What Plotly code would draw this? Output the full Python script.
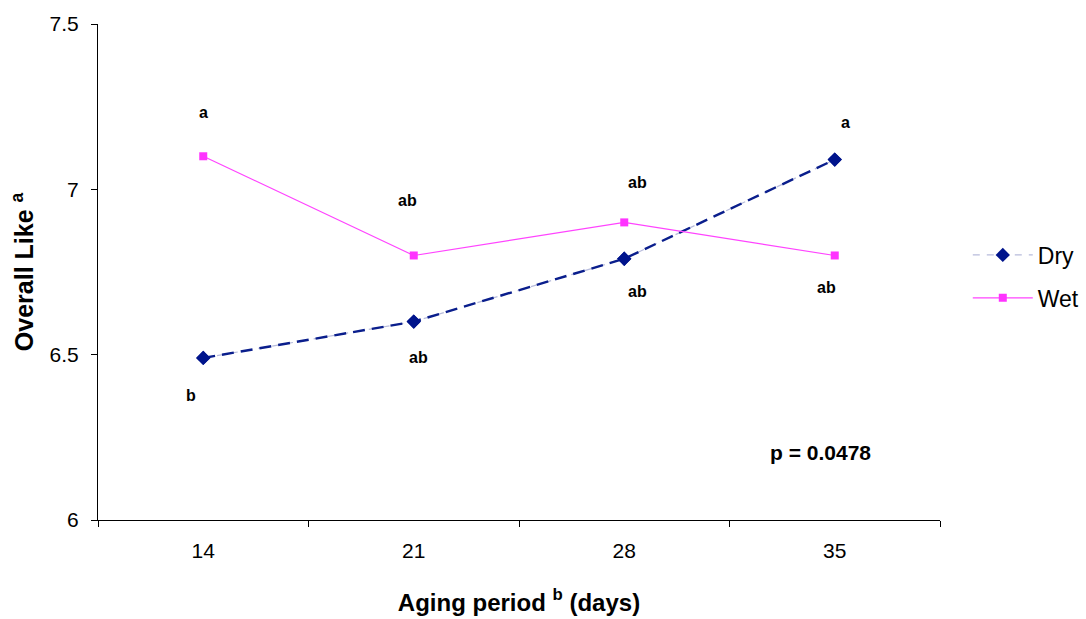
import plotly.graph_objects as go

days = ["14", "21", "28", "35"]
dry = [6.49, 6.60, 6.79, 7.09]
wet = [7.10, 6.80, 6.90, 6.80]
dry_letters = ["b", "ab", "ab", "a"]
wet_letters = ["a", "ab", "ab", "ab"]
y_ticks = [6, 6.5, 7, 7.5]
p_text = "p = 0.0478"

FONT = "Liberation Sans, Arial, sans-serif"

fig = go.Figure()

# Dry: light base line (legend), dark dashed overlay
fig.add_trace(go.Scatter(
    x=days, y=dry, name="Dry", mode="lines+markers", legendgroup="dry",
    line=dict(color="#B8BCDC", width=1.2, dash="7px,7px"),
    marker=dict(symbol="diamond", size=11, color="#00148C"),
))
fig.add_trace(go.Scatter(
    x=days, y=dry, showlegend=False, mode="lines+markers", hoverinfo="skip",
    legendgroup="dry",
    line=dict(color="#0A1E8C", width=2.4, dash="12px,7px"),
    marker=dict(symbol="diamond", size=11, color="#00148C"),
))
fig.add_trace(go.Scatter(
    x=days, y=wet, name="Wet", mode="lines+markers", legendgroup="wet",
    line=dict(color="#FF44FF", width=1.2),
    marker=dict(symbol="square", size=8, color="#FF33FF"),
))

# letter annotations (pixel offsets from the points); x given as category index
dry_shift = [(-12, -38), (5, -36), (13, -33), (11, 37)]
wet_shift = [(0, 44), (-6, 55), (13, 40), (-8, -32)]
for i, (v, t, (dx, dy)) in enumerate(zip(dry, dry_letters, dry_shift)):
    fig.add_annotation(x=i, y=v, text="<b>" + t + "</b>", showarrow=False,
                       xshift=dx, yshift=dy,
                       font=dict(family=FONT, size=16, color="black"))
for i, (v, t, (dx, dy)) in enumerate(zip(wet, wet_letters, wet_shift)):
    fig.add_annotation(x=i, y=v, text="<b>" + t + "</b>", showarrow=False,
                       xshift=dx, yshift=dy,
                       font=dict(family=FONT, size=16, color="black"))

fig.add_annotation(xref="paper", yref="paper", x=0.8575, y=0.137,
                   text="<b>" + p_text + "</b>",
                   showarrow=False, xanchor="center", yanchor="middle",
                   font=dict(family=FONT, size=21, color="black"))

fig.update_layout(
    width=1086, height=619,
    margin=dict(l=98, r=146, t=24, b=99, autoexpand=False),
    paper_bgcolor="white", plot_bgcolor="white",
    font=dict(family=FONT, color="black"),
    legend=dict(x=1.033, y=0.491, xanchor="left", yanchor="middle",
                font=dict(size=23), traceorder="grouped", tracegroupgap=10,
                itemwidth=60, bgcolor="rgba(0,0,0,0)"),
    xaxis=dict(
        type="category", range=[-0.5, 3.5],
        showline=True, linecolor="black", linewidth=1,
        ticks="outside", tickson="boundaries", ticklen=6, tickcolor="black",
        showgrid=False, zeroline=False, automargin=False,
        tickfont=dict(size=21), ticklabelstandoff=12,
        title=dict(text="<b>Aging period <sup>b</sup> (days)</b>",
                   font=dict(size=24), standoff=32),
    ),
    yaxis=dict(
        range=[6, 7.5], tickvals=y_ticks, ticktext=["6", "6.5", "7", "7.5"],
        showline=True, linecolor="black", linewidth=1,
        ticks="outside", ticklen=6, tickcolor="black",
        showgrid=False, zeroline=False, automargin=False,
        tickfont=dict(size=21), ticklabelstandoff=8,
        title=dict(text="<b>Overall Like <sup>a</sup></b>",
                   font=dict(size=25), standoff=8),
    ),
)

fig.write_html("out.html", config={"displayModeBar": False},
               post_script="document.body.style.margin='0px';")
